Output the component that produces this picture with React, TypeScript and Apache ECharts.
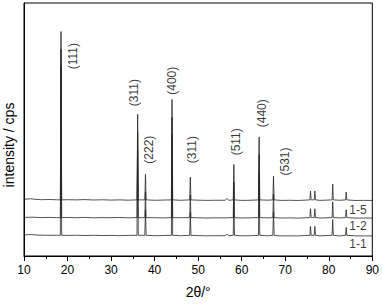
import React, { useEffect, useRef } from "react";
import * as echarts from "echarts";

// Peak positions (2θ, degrees)
const peakPos = [18.5, 36.1, 37.9, 44.0, 48.2, 58.2, 64.0, 67.3, 75.8, 76.8, 80.9, 84.0];
// Peak heights above each trace's baseline (arbitrary cps units)
const peakH15 = [1710, 870, 260, 1020, 230, 360, 640, 240, 90, 90, 160, 80];
const peakH12 = [1710, 870, 260, 1020, 230, 360, 640, 240, 90, 90, 160, 80];
const peakH11 = [1710, 870, 260, 1020, 230, 360, 640, 240, 90, 90, 160, 80];
// Baseline levels of the stacked traces
const baseLevels = [570, 390, 210];
const sampleNames = ["1-5", "1-2", "1-1"];

// Baseline noise
const base15: [number, number][] = [[10,575],[11.5,582],[12.5,576],[14,572],[16,574],[17.5,571],[20,572],[22,570],[24,573],[26,569],[28,571],[30,568],[32,570],[34,567],[40,566],[42,568],[46,566],[50,567],[52,565],[54,566],[56.2,566],[56.6,585],[57,566],[60,565],[62,566],[66,567],[69,565],[71,566],[73,564],[78,565],[82.5,566],[86,564],[88,565],[90,564]];
const base12: [number, number][] = [[10,392],[12,394],[14,390],[16,392],[17.5,390],[20,391],[22,389],[24,392],[26,388],[28,390],[30,389],[32,391],[34,388],[40,389],[42,387],[46,389],[50,388],[52,386],[54,388],[56,387],[60,386],[62,388],[66,387],[69,386],[71,387],[73,385],[78,386],[82.5,387],[86,385],[88,386],[90,385]];
const base11: [number, number][] = [[10,214],[11.5,218],[13,213],[15,211],[17.5,210],[20,209],[22,211],[24,208],[26,210],[28,208],[30,209],[32,207],[34,209],[40,206],[42,208],[46,206],[50,207],[52,205],[54,206],[56.2,206],[56.6,222],[57,206],[60,205],[62,206],[66,205],[69,204],[71,205],[73,204],[78,205],[82.5,204],[86,205],[88,204],[90,204]];

// Reflection labels and their positions (2θ, intensity)
const hklLabels = ["(111)", "(311)", "(222)", "(400)", "(311)", "(511)", "(440)", "(531)"];
const hklX = [21.2, 35.2, 38.65, 43.9, 48.5, 58.8, 64.55, 70.05];
const hklY = [2030, 1660, 1080, 1780, 1080, 1160, 1450, 960];
// Sample label positions
const sampleLabelX = [86.7, 86.7, 86.7];
const sampleLabelY = [470, 300, 120];

const xTicks = [10, 20, 30, 40, 50, 60, 70, 80, 90];

function buildTrace(base: [number, number][], heights: number[], level: number) {
  const pts: [number, number][] = base.slice();
  peakPos.forEach((p, i) => {
    pts.push([p - 0.15, level]);
    pts.push([p, level + heights[i]]);
    pts.push([p + 0.15, level]);
  });
  pts.sort((a, b) => a[0] - b[0]);
  return pts;
}

export default function App() {
  const ref = useRef<HTMLDivElement>(null);
  useEffect(() => {
    if (!ref.current) return;
    const chart = echarts.init(ref.current, null, { renderer: "svg" });
    const traces = [
      buildTrace(base15, peakH15, baseLevels[0]),
      buildTrace(base12, peakH12, baseLevels[1]),
      buildTrace(base11, peakH11, baseLevels[2]),
    ];
    const font = "Liberation Sans, Arial, sans-serif";
    chart.setOption({
      animation: false,
      grid: { left: 24, right: 9, top: 3, bottom: 44, show: true, borderColor: "#000", borderWidth: 1 },
      xAxis: {
        type: "value",
        min: xTicks[0],
        max: xTicks[xTicks.length - 1],
        interval: 10,
        name: "2θ/°",
        nameLocation: "middle",
        nameGap: 29,
        nameTextStyle: { fontSize: 14, color: "#000", fontFamily: font },
        axisLine: { lineStyle: { color: "#000", width: 1 } },
        axisTick: { inside: false, length: 5, lineStyle: { color: "#000" } },
        minorTick: { show: true, splitNumber: 2, length: 3, lineStyle: { color: "#000" } },
        axisLabel: { fontSize: 12, color: "#000", fontFamily: font, margin: 8 },
        splitLine: { show: false },
      },
      yAxis: {
        type: "value",
        min: 0,
        max: 2570,
        axisLine: { show: true, lineStyle: { color: "#000" } },
        axisTick: { show: false },
        axisLabel: { show: false },
        splitLine: { show: false },
      },
      graphic: [
        {
          type: "text",
          x: 9,
          y: 145,
          rotation: Math.PI / 2,
          style: {
            text: "intensity / cps",
            fontSize: 14,
            fontFamily: font,
            fill: "#000",
            align: "center",
            verticalAlign: "middle",
          },
        },
      ],
      series: [
        ...traces.map((d, i) => ({
          type: "line",
          name: sampleNames[i],
          data: d,
          showSymbol: false,
          symbol: "none",
          lineStyle: { color: "#262626", width: 0.8 },
          z: 3 - i,
        })),
        {
          type: "scatter",
          symbolSize: 0,
          data: hklLabels.map((t, i) => ({ name: t, value: [hklX[i], hklY[i]] })),
          label: {
            show: true,
            formatter: "{b}",
            position: [0, 0],
            rotate: 90,
            align: "center",
            verticalAlign: "middle",
            fontSize: 12,
            color: "#000",
            fontFamily: font,
          },
          silent: true,
        },
        {
          type: "scatter",
          symbolSize: 0,
          data: sampleNames.map((t, i) => ({ name: t, value: [sampleLabelX[i], sampleLabelY[i]] })),
          label: {
            show: true,
            formatter: "{b}",
            position: [0, 0],
            align: "center",
            verticalAlign: "middle",
            fontSize: 12,
            color: "#000",
            fontFamily: font,
          },
          silent: true,
        },
      ],
    });
    return () => chart.dispose();
  }, []);
  return <div ref={ref} style={{ position: "absolute", left: 0, top: 0, width: 382, height: 304 }} />;
}
